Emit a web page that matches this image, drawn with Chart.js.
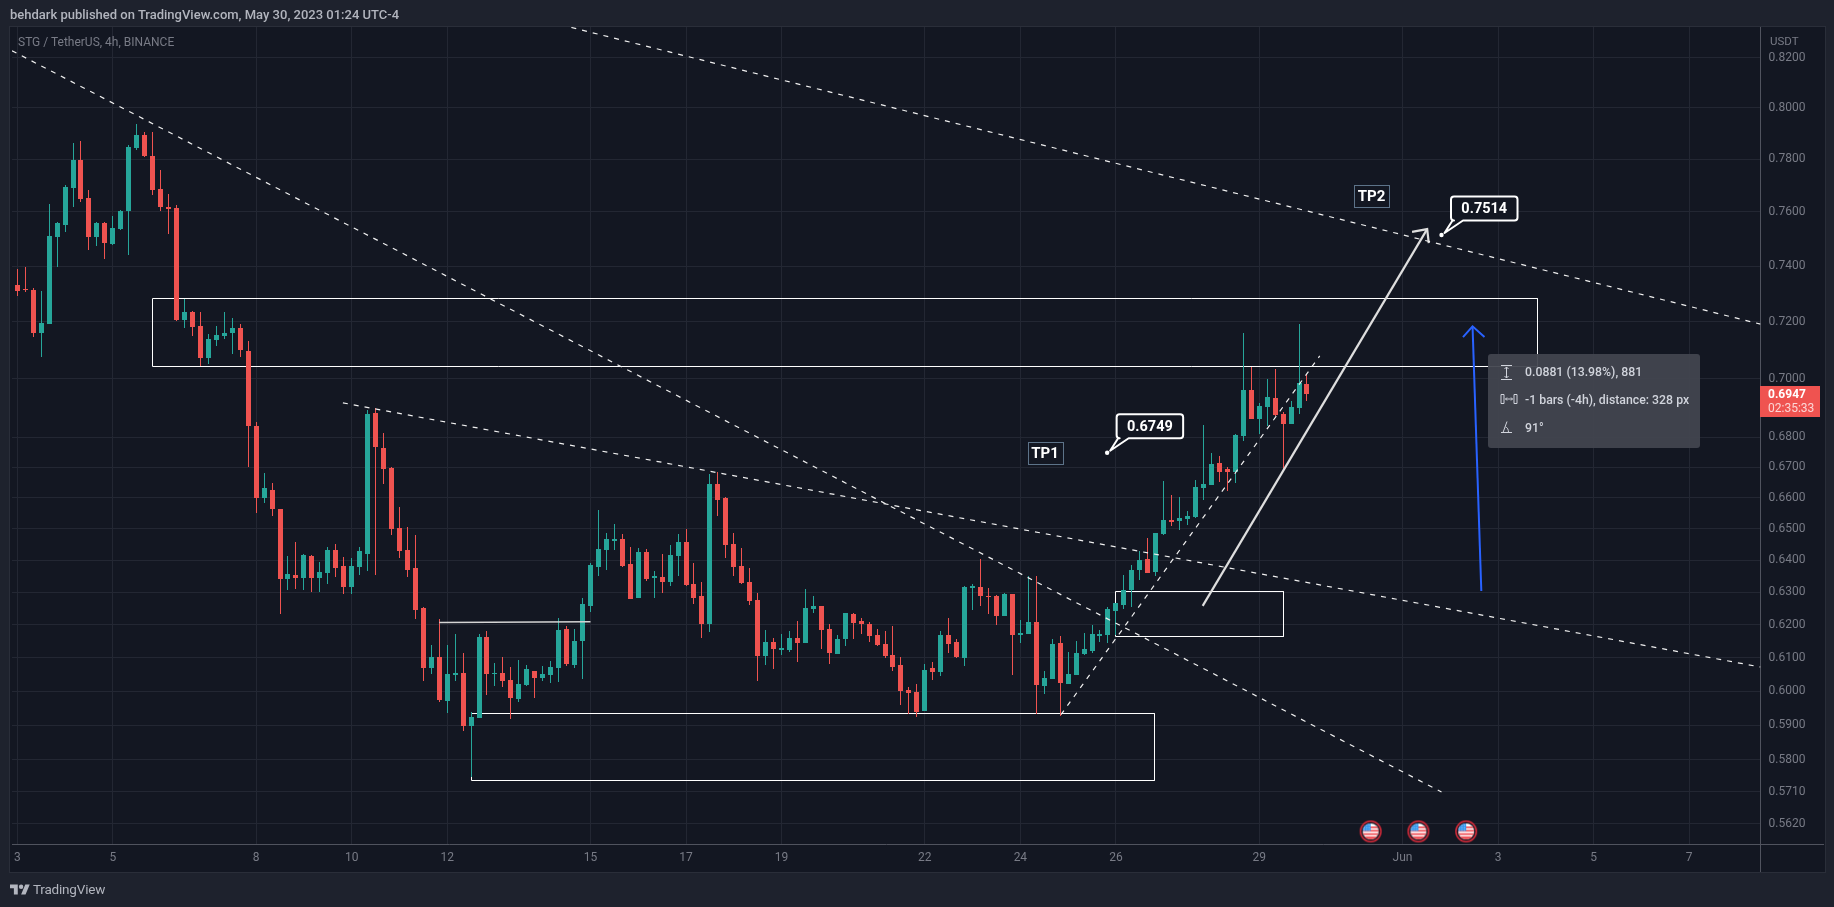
<!DOCTYPE html>
<html><head><meta charset="utf-8">
<script src="https://cdn.jsdelivr.net/npm/chart.js@4"></script>
<style>
html,body{margin:0;padding:0;background:#1e222d;width:1834px;height:907px;overflow:hidden;font-family:Roboto,sans-serif}
.a{position:absolute;white-space:nowrap}
#pane{left:9px;top:26px;width:1815px;height:845px;border:1px solid #2a2e39;background:#131722}
canvas{position:absolute;left:0;top:0}
.ln{position:absolute;background:#50535e}
.tip{color:#d1d4dc;font-size:12.3px;font-weight:500;line-height:16px}
</style></head><body>
<div class="a" id="pane"></div>
<canvas id="c" width="1834" height="907" style="width:1834px;height:907px"></canvas>
<div class="ln" style="left:1760px;top:844px;width:64px;height:1px"></div>
<div class="ln" style="left:1760px;top:844px;width:1px;height:28px"></div>
<div class="a" style="left:10px;top:7px;font-size:13px;font-weight:500;color:#b2b5be;line-height:16px" id="hdr">behdark published on TradingView.com, May 30, 2023 01:24 UTC-4</div>
<div class="a" style="left:18px;top:34px;font-size:12px;color:#787b86;line-height:16px">STG / TetherUS, 4h, BINANCE</div>
<div class="a" style="left:1770px;top:33px;font-size:11.5px;color:#787b86;line-height:16px">USDT</div>
<svg class="a" style="left:10px;top:882px" width="20" height="16" viewBox="0 0 36 28"><path fill="#b2b5be" d="M14 22H7V11H0V4h14v18zM28 22h-8l7.5-18h8L28 22z"/><circle fill="#b2b5be" cx="20" cy="8" r="4"/></svg>
<div class="a" style="left:33px;top:880px;font-size:13.5px;letter-spacing:-.2px;color:#b2b5be;line-height:18px">TradingView</div>
<div class="a" style="left:1488px;top:354px;width:212px;height:94px;background:rgba(66,69,79,.94);border-radius:3px"></div>
<svg class="a" style="left:1500px;top:364px" width="20" height="72" viewBox="0 0 20 72" fill="none" stroke="#d1d4dc" stroke-width="1">
<path d="M1 1.5h11M1 15.5h11M6.500 3v11M4.500 5l2-2 2 2M4.500 12l2 2 2-2"/>
<path d="M1 30.500h3v9h-3zM14 30.500h3v9h-3zM5.500 35h7M7 33.500l-1.500 1.500 1.500 1.500M11 33.500l1.500 1.500-1.500 1.500"/>
<path d="M1 68.500h11M3 68.500l4-11M5.500 63c2 .5 3 2.500 3 5.500"/>
</svg>
<div class="a tip" style="left:1525px;top:364px">0.0881 (13.98%), 881</div>
<div class="a tip" style="left:1525px;top:392px">-1 bars (-4h), distance: 328 px</div>
<div class="a tip" style="left:1525px;top:420px">91°</div>
<div class="a" style="left:1760px;top:386px;width:60px;height:31px;background:#ef5350"></div>
<div class="a" style="left:1768px;top:387px;font-size:12px;font-weight:700;color:#fff;line-height:15px">0.6947</div>
<div class="a" style="left:1768px;top:401px;font-size:12px;color:#fbd6d5;line-height:15px">02:35:33</div>
<script>
const xTickBars=[0,12,30,42,54,72,84,96,114,126,138,156,174,186,198,210];
const xTickLabels=['3','5','8','10','12','15','17','19','22','24','26','29','Jun','3','5','7'];
const yTicks=[0.82,0.80,0.78,0.76,0.74,0.72,0.70,0.68,0.67,0.66,0.65,0.64,0.63,0.62,0.61,0.60,0.59,0.58,0.571,0.562];

const opens=[.7332,.7317,.7314,.7161,.7193,.7507,.7553,.7689,.7797,.7653,
.7507,.7559,.7482,.7537,.7604,.7844,.7895,.7813,.7687,.7619,
.7615,.7206,.7234,.7185,.7073,.7136,.7149,.7160,.7178,.7097,
.6839,.6600,.6626,.6565,.6342,.6354,.6345,.6414,.6345,.6360,
.6433,.6382,.6317,.6379,.6421,.6883,.6765,.6698,.6503,.6433,
.6376,.6251,.6068,.6102,.5972,.6049,.6054,.5898,.5922,.6163,
.6051,.6054,.6034,.5977,.6019,.6060,.6040,.6049,.6069,.6187,
.6078,.6151,.6258,.6379,.6433,.6462,.6468,.6389,.6283,.6427,
.6345,.6348,.6332,.6414,.6459,.6326,.6289,.6202,.6646,.6600,
.6452,.6382,.6332,.6277,.6105,.6147,.6123,.6123,.6160,.6145,
.6249,.6258,.6187,.6111,.6157,.6233,.6211,.6202,.6168,.6141,
.6108,.6078,.6004,.5998,.5942,.6069,.6057,.6169,.6147,.6099,
.6314,.6317,.6289,.6289,.6227,.6295,.6169,.6172,.6208,.6016,
.6037,.6145,.6022,.6049,.6111,.6120,.6166,.6169,.6243,.6261,
.6307,.6370,.6404,.6364,.6484,.6529,.6526,.6532,.6539,.6633,
.6643,.6715,.6695,.6685,.6805,.6961,.6863,.6904,.6935,.6879,
.6846,.6900,.6982];
const closes=[.7310,.7314,.7161,.7195,.7511,.7559,.7695,.7797,.7649,.7507,
.7559,.7485,.7541,.7604,.7848,.7895,.7813,.7684,.7619,.7611,
.7206,.7234,.7181,.7073,.7139,.7153,.7160,.7178,.7100,.6839,
.6600,.6633,.6565,.6342,.6357,.6345,.6417,.6345,.6364,.6433,
.6376,.6317,.6382,.6430,.6880,.6768,.6695,.6500,.6430,.6370,
.6245,.6068,.6102,.5974,.6052,.6055,.5898,.5925,.6163,.6051,
.6054,.6031,.5980,.6022,.6066,.6040,.6051,.6072,.6184,.6081,
.6151,.6265,.6385,.6436,.6468,.6468,.6382,.6279,.6427,.6342,
.6351,.6332,.6417,.6459,.6323,.6283,.6202,.6646,.6594,.6449,
.6379,.6329,.6273,.6105,.6147,.6126,.6129,.6160,.6145,.6251,
.6258,.6184,.6114,.6157,.6236,.6205,.6202,.6165,.6138,.6105,
.6072,.6001,.5995,.5939,.6063,.6057,.6169,.6141,.6103,.6317,
.6320,.6289,.6286,.6227,.6295,.6169,.6175,.6208,.6017,.6040,
.6141,.6025,.6051,.6114,.6126,.6172,.6172,.6249,.6267,.6307,
.6370,.6401,.6360,.6487,.6529,.6523,.6535,.6542,.6636,.6646,
.6711,.6685,.6685,.6808,.6961,.6863,.6907,.6938,.6877,.6845,
.6904,.6985,.6947];
const highs=[.7389,.7396,.7320,.7310,.7630,.7563,.7703,.7862,.7870,.7683,
.7563,.7563,.7585,.7608,.7856,.7938,.7907,.7907,.7758,.7668,
.7627,.7281,.7238,.7234,.7157,.7185,.7234,.7213,.7192,.7132,
.6853,.6682,.6649,.6565,.6414,.6459,.6420,.6417,.6395,.6443,
.6452,.6411,.6407,.6443,.6893,.6899,.6815,.6702,.6571,.6506,
.6481,.6255,.6137,.6217,.6138,.6172,.6114,.5939,.6172,.6181,
.6084,.6102,.6072,.6093,.6078,.6060,.6075,.6090,.6221,.6196,
.6187,.6283,.6392,.6561,.6487,.6516,.6484,.6443,.6439,.6436,
.6367,.6420,.6449,.6484,.6500,.6392,.6332,.6678,.6685,.6603,
.6487,.6439,.6376,.6298,.6184,.6160,.6171,.6181,.6211,.6310,
.6289,.6258,.6202,.6169,.6236,.6236,.6221,.6208,.6187,.6181,
.6196,.6102,.6013,.6022,.6081,.6087,.6181,.6221,.6157,.6320,
.6326,.6404,.6314,.6292,.6298,.6295,.6214,.6351,.6351,.6061,
.6157,.6166,.6118,.6151,.6175,.6199,.6184,.6255,.6267,.6355,
.6385,.6430,.6470,.6487,.6655,.6610,.6603,.6558,.6658,.6842,
.6748,.6738,.6702,.6811,.7160,.7041,.6917,.6999,.7034,.6886,
.6924,.7192,.7016];
const lows=[.7293,.7307,.7147,.7077,.7190,.7398,.7527,.7620,.7639,.7459,
.7474,.7426,.7478,.7533,.7441,.7836,.7809,.7665,.7604,.7519,
.7202,.7178,.7149,.7045,.7052,.7115,.7139,.7086,.7076,.6702,
.6552,.6584,.6542,.6233,.6307,.6310,.6307,.6301,.6301,.6326,
.6348,.6295,.6295,.6354,.6367,.6354,.6646,.6481,.6407,.6348,
.6218,.6031,.6052,.5969,.5936,.6031,.5884,.5752,.5920,.5989,
.6016,.6013,.5919,.5969,.6016,.5980,.6031,.6025,.6028,.6075,
.6069,.6037,.6239,.6351,.6370,.6433,.6379,.6279,.6283,.6336,
.6283,.6298,.6320,.6351,.6320,.6265,.6160,.6178,.6542,.6407,
.6351,.6326,.6261,.6031,.6078,.6066,.6108,.6117,.6087,.6145,
.6236,.6126,.6081,.6111,.6135,.6157,.6171,.6147,.6135,.6099,
.6060,.5960,.5933,.5925,.5942,.6033,.6045,.6114,.6099,.6075,
.6246,.6258,.6233,.6199,.6227,.6049,.6145,.6172,.5933,.5992,
.6037,.5928,.6022,.6049,.6108,.6114,.6147,.6145,.6170,.6249,
.6254,.6339,.6360,.6351,.6480,.6510,.6497,.6513,.6535,.6594,
.6642,.6652,.6623,.6649,.6788,.6863,.6811,.6839,.6873,.6691,
.6846,.6880,.6924];

const trendA=[[-0.665,.8229],[178.9,.5709]];
const trendB=[[69.6,.8324],[218.97,.7191]];
const trendC=[[40.9,.6917],[218.97,.6072]];
const trendD=[[131.1,.5931],[163.6,.7079]];
const zoneUpper=[17,191,.7282,.7043];
const zoneLower=[57,142.9,.5933,.5741];
const zoneSmall=[138,159,.6302,.6165];
const levelLine=[[53,.6207],[72,.6209]];
const arrowWhite=[[148.9,.6258],[177.1,.7536]];
const arrowWhiteHead=[[175.2,.7526],[177.1,.7536],[177.3,.7484]];
const arrowBlue=[[183.9,.6304],[182.8,.7183]];
const arrowBlueHead=[[181.6,.7145],[182.8,.7183],[184.3,.7145]];
const eventBars=[170,176,182];
const eventPrice=.5599;
const callouts=[{bar:136.9,price:.6749,text:'0.6749'},{bar:178.9,price:.7514,text:'0.7514'}];
const targetLabels=[{bar:129.1,price:.6747,text:'TP1'},{bar:170.1,price:.7659,text:'TP2'}];

const pts=a=>a.map(p=>({x:p[0],y:p[1]}));
const box=r=>[[r[0],r[2]],[r[1],r[2]],[r[1],r[3]],[r[0],r[3]],[r[0],r[2]]];
const UP='#26a69a',DN='#ef5350';
const colors=opens.map((o,i)=>closes[i]>=o?UP:DN);
const line=(data,color,width,dash,order,snap)=>({type:'line',data:pts(data),borderColor:color,borderWidth:width,borderDash:dash||[],pointRadius:0,tension:0,fill:false,order:order,snap:!!snap,borderCapStyle:'butt',borderJoinStyle:'miter'});

function flag(){
  const c=document.createElement('canvas');c.width=24;c.height=24;
  const g=c.getContext('2d');const m=12;
  g.beginPath();g.arc(m,m,10.2,0,7);g.strokeStyle='#dd2c3b';g.lineWidth=1.5;g.fillStyle='#131722';g.fill();g.stroke();
  g.save();g.beginPath();g.arc(m,m,8,0,7);g.clip();
  g.fillStyle='#ffffff';g.fillRect(0,0,24,24);
  g.fillStyle='#f0535a';
  [7,10.4,13.800,17.2].forEach(y=>g.fillRect(0,y,24,1.8));
  g.fillRect(0,17.2,24,8);
  g.fillStyle='#2f94ee';g.fillRect(0,0,12,11.5);
  g.fillStyle='#bfe0fb';
  for(let y=5.5;y<11;y+=2.4)for(let x=5;x<12;x+=2.4)g.fillRect(x,y,1,1);
  g.restore();
  return c;
}

const snapPlugin={id:'snap',afterDatasetsUpdate(ch){
  ch.data.datasets.forEach((d,k)=>{
    const m=ch.getDatasetMeta(k);
    if(m.type==='bar'){m.data.forEach(el=>{el.x=Math.floor(el.x)+.5;el.y=Math.round(el.y);el.base=Math.round(el.base);});}
    else if(d.snap){m.data.forEach(el=>{el.x=Math.floor(el.x)+.5;el.y=Math.floor(el.y)+.5;});}
  });
}};
const notePlugin={id:'notes',afterDatasetsDraw(ch){
  const g=ch.ctx,X=ch.scales.x,Y=ch.scales.y;
  g.save();
  targetLabels.forEach(t=>{
    const x=X.getPixelForValue(t.bar),y=Y.getPixelForValue(t.price);
    g.fillStyle='#131722';g.strokeStyle='#5d7389';g.lineWidth=1;
    const l=Math.round(x-17.5)+.5,u=Math.round(y-11)+.5;
    g.fillRect(l,u,35,22);g.strokeRect(l,u,35,22);
    g.fillStyle='#ffffff';g.font='700 15px Roboto';g.textAlign='center';g.textBaseline='middle';
    g.fillText(t.text,x,y+1);
  });
  callouts.forEach(c=>{
    const x=X.getPixelForValue(c.bar),y=Y.getPixelForValue(c.price);
    const l=x+9.5,r=x+76,t=y-38.5,b=y-14.5,q=3;
    g.beginPath();
    g.moveTo(l+q,t);g.lineTo(r-q,t);g.quadraticCurveTo(r,t,r,t+q);g.lineTo(r,b-q);g.quadraticCurveTo(r,b,r-q,b);
    g.lineTo(x+21.5,b);g.lineTo(x+3,y-2);g.lineTo(x+11,b);g.lineTo(l+q,b);g.quadraticCurveTo(l,b,l,b-q);g.lineTo(l,t+q);g.quadraticCurveTo(l,t,l+q,t);
    g.closePath();
    g.fillStyle='#131722';g.fill();g.strokeStyle='#ffffff';g.lineWidth=2;g.lineJoin='round';g.stroke();
    g.beginPath();g.arc(x,y,2.2,0,7);g.fillStyle='#ffffff';g.fill();
    g.fillStyle='#ffffff';g.font='700 14.5px Roboto';g.textAlign='center';g.textBaseline='middle';
    g.fillText(c.text,(l+r)/2,(t+b)/2+1);
  });
  g.restore();
}};

const tickFont={family:'Roboto',size:12};
new Chart(document.getElementById('c'),{
  type:'bar',
  data:{datasets:[
    line(box(zoneUpper),'#ffffff',1,null,5,true),
    line(box(zoneLower),'#ffffff',1,null,5,true),
    line(box(zoneSmall),'#ffffff',1,null,5,true),
    {type:'bar',label:'wick',data:opens.map((o,i)=>({x:i,y:[lows[i],highs[i]]})),backgroundColor:colors,borderWidth:0,inflateAmount:0,grouped:false,maxBarThickness:1,barPercentage:1,categoryPercentage:1,minBarLength:1,order:3},
    {type:'bar',label:'body',data:opens.map((o,i)=>({x:i,y:[Math.min(o,closes[i]),Math.max(o,closes[i])]})),backgroundColor:colors,borderWidth:0,inflateAmount:0,grouped:false,maxBarThickness:5,barPercentage:1,categoryPercentage:1,minBarLength:1,order:2},
    line(levelLine,'#d5d5d5',1.6,null,1),
    line(trendA,'#f0f0f0',1.2,[5,6],1),
    line(trendB,'#f0f0f0',1.2,[5,6],1),
    line(trendC,'#f0f0f0',1.2,[5,6],1),
    line(trendD,'#f0f0f0',1.2,[5,6],1),
    line(arrowWhite,'#dedede',2.2,null,1),
    line(arrowWhiteHead,'#dedede',2.2,null,1),
    line(arrowBlue,'#2962ff',2,null,1),
    line(arrowBlueHead,'#2962ff',2,null,1),
    {type:'scatter',data:eventBars.map(b=>({x:b,y:eventPrice})),pointStyle:flag(),pointRadius:11,showLine:false,order:0}
  ]},
  options:{
    responsive:false,devicePixelRatio:1,animation:false,
    layout:{padding:{left:10,top:27,right:9.5,bottom:34.5}},
    plugins:{legend:{display:false},tooltip:{enabled:false},title:{display:false}},
    events:[],
    scales:{
      x:{type:'linear',position:'bottom',min:-0.665,max:218.97,offset:false,
        grid:{color:'#232733',drawTicks:false,offset:false},
        border:{display:true,color:'#50535e'},
        afterBuildTicks:s=>{s.ticks=xTickBars.map(v=>({value:v}));},
        afterFit:s=>{s.height=28;},
        ticks:{autoSkip:false,maxRotation:0,minRotation:0,padding:6,color:'#787b86',font:tickFont,
          callback:v=>xTickLabels[xTickBars.indexOf(v)]}},
      y:{type:'logarithmic',position:'right',min:.5563,max:.8326,
        grid:{color:'#232733',drawTicks:false},
        border:{display:true,color:'#50535e'},
        afterBuildTicks:s=>{s.ticks=yTicks.map(v=>({value:v}));},
        afterFit:s=>{s.width=64;},
        ticks:{autoSkip:false,padding:8,color:'#787b86',font:tickFont,callback:v=>v.toFixed(4)}}
    }
  },
  plugins:[snapPlugin,notePlugin]
});
</script>
</body></html>
